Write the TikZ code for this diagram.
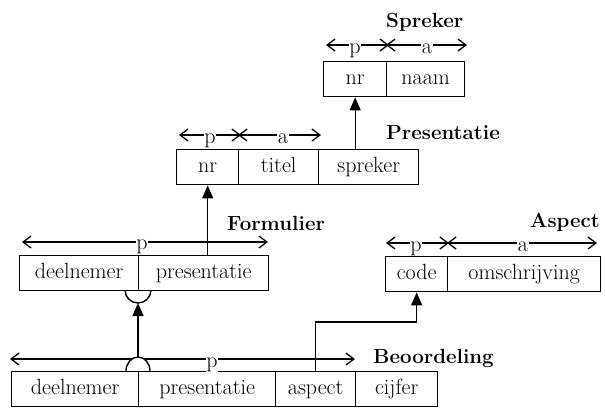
\documentclass[tikz,border=0pt]{standalone}
\usetikzlibrary{arrows.meta}
\begin{document}
\begin{tikzpicture}[x=1pt,y=-1pt,
  cell/.style={draw, line width=1.4pt, minimum height=35pt, inner sep=0pt, anchor=north west,
    font=\fontsize{22}{26}\selectfont, text height=15pt, text depth=4pt},
  ttl/.style={font=\fontsize{20.5}{24}\selectfont\bfseries, anchor=base west, inner sep=0pt},
  lbl/.style={fill=white, inner sep=0.6pt, font=\fontsize{22}{26}\selectfont, anchor=base},
  dbl/.style={line width=1.3pt, {Straight Barb[length=8pt,width=12pt]}-{Straight Barb[length=8pt,width=12pt]}},
  fk/.style={line width=1.4pt, -{Triangle[length=13pt,width=11pt]}},
  ln/.style={line width=1.4pt}]
\useasboundingbox (0,0) rectangle (605,408);

% ---------- Spreker ----------
\node[cell, minimum width=63pt] (sp1) at (323,61) {nr};
\node[cell, minimum width=78pt] (sp2) at (386,61) {naam};
\node[ttl] (spT) at (386,27) {Spreker};
\coordinate (spA) at (326,45); \coordinate (spB) at (389,45);
\coordinate (spC) at (386,45); \coordinate (spD) at (467,45);
\draw[dbl] (spA) -- (spB);
\draw[dbl] (spC) -- (spD);
\node[lbl] (spP) at (355,53) {p};
\node[lbl] (spX) at (427,53) {a};

% ---------- Presentatie ----------
\node[cell, minimum width=62pt] (pr1) at (176,149) {nr};
\node[cell, minimum width=80pt] (pr2) at (238,149) {titel};
\node[cell, minimum width=100pt] (pr3) at (318,149) {spreker};
\node[ttl] (prT) at (386,139) {Presentatie};
\coordinate (prA) at (179,135); \coordinate (prB) at (241,135);
\coordinate (prC) at (238,135); \coordinate (prD) at (321,135);
\draw[dbl] (prA) -- (prB);
\draw[dbl] (prC) -- (prD);
\node[lbl] (prP) at (210,143) {p};
\node[lbl] (prX) at (283,143) {a};

% ---------- Formulier ----------
\node[cell, minimum width=119pt] (fo1) at (19,255) {deelnemer};
\node[cell, minimum width=130pt] (fo2) at (138,255) {presentatie};
\node[ttl] (foT) at (227,230) {Formulier};
\coordinate (foA) at (22,242); \coordinate (foB) at (268,242);
\draw[dbl] (foA) -- (foB);
\node[lbl] (foP) at (142,249) {p};

% ---------- Aspect ----------
\node[cell, minimum width=62pt] (as1) at (385,256) {code};
\node[cell, minimum width=153pt] (as2) at (447,256) {omschrijving};
\node[ttl] (asT) at (530,227) {Aspect};
\coordinate (asA) at (386,243); \coordinate (asB) at (449,243);
\coordinate (asC) at (447,243); \coordinate (asD) at (597,243);
\draw[dbl] (asA) -- (asB);
\draw[dbl] (asC) -- (asD);
\node[lbl] (asP) at (416,251) {p};
\node[lbl] (asX) at (523,251) {a};

% ---------- Beoordeling ----------
\node[cell, minimum width=127pt] (bd1) at (11,371) {deelnemer};
\node[cell, minimum width=137pt] (bd2) at (138,371) {presentatie};
\node[cell, minimum width=80pt] (bd3) at (275,371) {aspect};
\node[cell, minimum width=82pt] (bd4) at (355,371) {cijfer};
\node[ttl] (bdT) at (373,363) {Beoordeling};
\coordinate (bdA) at (10,359); \coordinate (bdB) at (355,359);
\draw[dbl] (bdA) -- (bdB);
\node[lbl] (bdP) at (212,367) {p};

% ---------- foreign keys ----------
\draw[fk] (pr3.north -| sp1.south) -- (sp1.south);
\draw[fk] (fo2.north -| pr1.south) -- (pr1.south);
\draw[fk] (bd3.north) -- ++(0,-49) -| (as1.south);

% combined key: semicircles and arrow
\draw[ln] (125,290) arc[start angle=180, end angle=360, radius=13pt];
\fill[white] (126,370.3) arc[start angle=180, end angle=0, x radius=12pt, y radius=14pt] -- cycle;
\draw[ln] (126,371) arc[start angle=180, end angle=0, x radius=12pt, y radius=14pt];
\coordinate (bumpTop) at (138,357);
\coordinate (cupBot) at (138,303);
\draw[fk] (bumpTop) -- (cupBot);
\end{tikzpicture}
\end{document}
